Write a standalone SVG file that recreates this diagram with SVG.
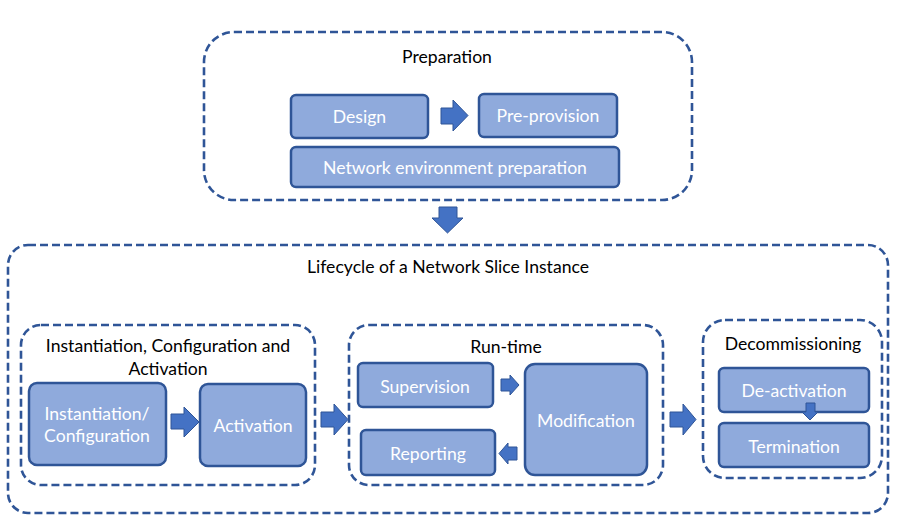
<svg xmlns="http://www.w3.org/2000/svg" width="901" height="528" viewBox="0 0 901 528">
<style>
.grp{fill:none;stroke:#2F5597;stroke-width:2.6;stroke-dasharray:8 4}
.node{fill:#8FAADC;stroke:#2F5597;stroke-width:2.5}
.arr{fill:#4472C4;stroke:#2F5597;stroke-width:1}
.t{font-family:Lato,"Open Sans","Liberation Sans",sans-serif;font-size:17.6px;text-anchor:middle;dominant-baseline:central}
.title{fill:#000}
.nt{fill:#FFFFFF}
</style>
<rect width="901" height="528" fill="#FFFFFF"/>
<g id="preparation">
<rect class="grp" x="204" y="32" width="488" height="168" rx="30"/>
<text class="t title" x="447" y="56">Preparation</text>
</g>
<g id="design">
<rect class="node" x="291" y="95" width="137" height="43" rx="5"/>
<text class="t nt" x="359.5" y="116.5">Design</text>
</g>
<g id="pre-provision">
<rect class="node" x="479" y="94" width="138" height="43" rx="5"/>
<text class="t nt" x="548" y="115.5">Pre-provision</text>
</g>
<g id="network-env">
<rect class="node" x="291" y="147" width="328" height="40" rx="5"/>
<text class="t nt" x="455" y="167">Network environment preparation</text>
</g>
<g id="lifecycle">
<rect class="grp" x="8" y="245" width="880" height="268" rx="20"/>
<text class="t title" x="448" y="266">Lifecycle of a Network Slice Instance</text>
</g>
<g id="ica">
<rect class="grp" x="21" y="325" width="294" height="160" rx="20"/>
<text class="t title" x="168" y="345">Instantiation, Configuration and</text>
<text class="t title" x="168" y="368">Activation</text>
</g>
<g id="instantiation">
<rect class="node" x="29" y="383" width="137" height="82" rx="8"/>
<text class="t nt" x="97" y="413">Instantiation/</text>
<text class="t nt" x="97" y="435">Configuration</text>
</g>
<g id="activation">
<rect class="node" x="200" y="384" width="106" height="82" rx="8"/>
<text class="t nt" x="253" y="425">Activation</text>
</g>
<g id="runtime">
<rect class="grp" x="349" y="325" width="314" height="160" rx="20"/>
<text class="t title" x="506" y="346">Run-time</text>
</g>
<g id="supervision">
<rect class="node" x="358" y="363" width="135" height="44" rx="5"/>
<text class="t nt" x="425" y="386">Supervision</text>
</g>
<g id="reporting">
<rect class="node" x="361" y="430" width="134" height="45" rx="5"/>
<text class="t nt" x="428" y="453">Reporting</text>
</g>
<g id="modification">
<rect class="node" x="525" y="364" width="122" height="111" rx="10"/>
<text class="t nt" x="586" y="420">Modification</text>
</g>
<g id="decommissioning">
<rect class="grp" x="703" y="320" width="179" height="158" rx="22"/>
<text class="t title" x="793" y="343">Decommissioning</text>
</g>
<g id="deactivation">
<rect class="node" x="719" y="368" width="150" height="44" rx="5"/>
<text class="t nt" x="794" y="390">De-activation</text>
</g>
<g id="termination">
<rect class="node" x="719" y="423" width="150" height="44" rx="5"/>
<text class="t nt" x="794" y="446">Termination</text>
</g>
<g id="connectors">
<polygon class="arr" points="441,108 453,108 453,100 468,115.5 453,131 453,124 441,124"/>
<polygon class="arr" points="439,207 457,207 457,218 463,218 447.5,233 432,218 439,218"/>
<polygon class="arr" points="171,414 184,414 184,407 199,422 184,437 184,429 171,429"/>
<polygon class="arr" points="321,412 334,412 334,404 348,419.5 334,435 334,427 321,427"/>
<polygon class="arr" points="670,412 683,412 683,404 696,419.5 683,435 683,427 670,427"/>
<polygon class="arr" points="501,379 510,379 510,375 519,385 510,395 510,391 501,391"/>
<polygon class="arr" points="517,447 508,447 508,443 499,453.5 508,464 508,460 517,460"/>
<polygon class="arr" points="806,403 815,403 815,412 818,412 810,420 802,412 806,412"/>
</g>
</svg>
